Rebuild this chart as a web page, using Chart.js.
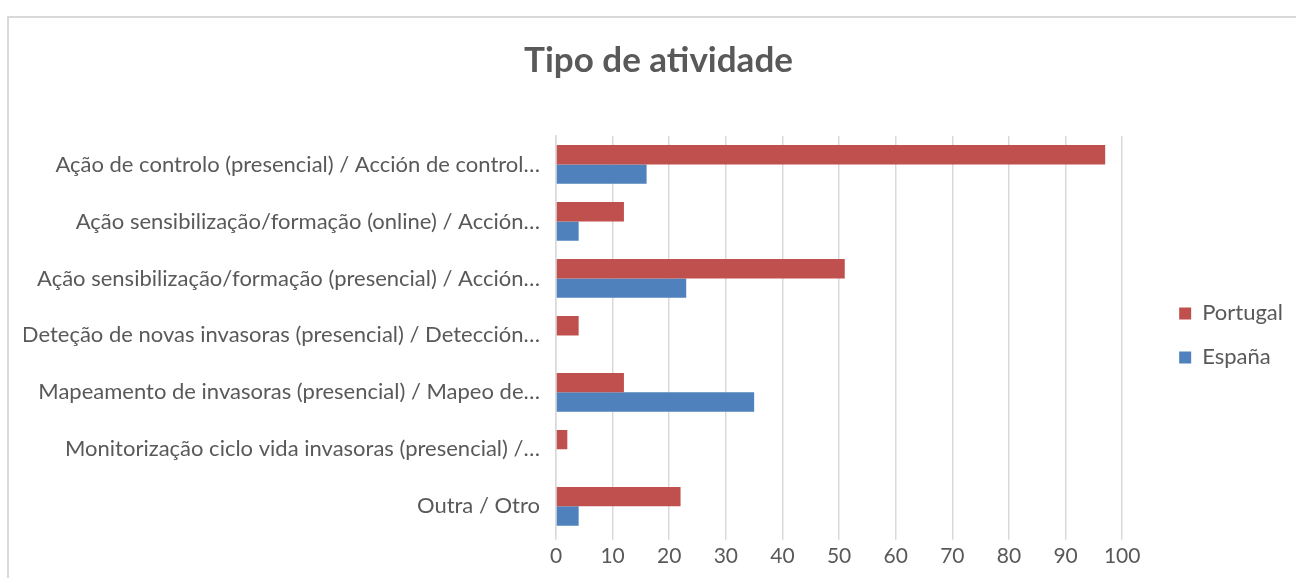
<!DOCTYPE html>
<html>
<head>
<meta charset="utf-8">
<script src="https://cdn.jsdelivr.net/npm/chart.js@4.4.0/dist/chart.umd.min.js"></script>
<style>
    html, body { margin: 0; padding: 0; background: #ffffff; overflow: hidden; }
    #frame {
        position: absolute;
        left: 7px; top: 16px;
        width: 1300px; height: 620px;
        border: 2px solid #d9d9d9;
        box-sizing: border-box;
    }
    #wrap { position: absolute; left: 0; top: 0; width: 1318px; height: 578px; }
</style>
</head>
<body>
<div id="frame"></div>
<div id="wrap"><canvas id="activityChart"></canvas></div>
<script>
// ====== Data ======
const categories = [
    "Ação de controlo (presencial) / Acción de control…",
    "Ação sensibilização/formação (online) / Acción…",
    "Ação sensibilização/formação (presencial) / Acción…",
    "Deteção de novas invasoras (presencial) / Detección…",
    "Mapeamento de invasoras (presencial) / Mapeo de…",
    "Monitorização ciclo vida invasoras (presencial) /…",
    "Outra / Otro"
];
const portugalValues = [97, 12, 51, 4, 12, 2, 22];
const espanaValues   = [16, 4, 23, 0, 35, 0, 4];
const xTicks = [0, 10, 20, 30, 40, 50, 60, 70, 80, 90, 100];

const textColor = "#595959";
const fontFamily = "Lato, sans-serif";

document.addEventListener("DOMContentLoaded", () => {
    const ctx = document.getElementById("activityChart");

    new Chart(ctx, {
        type: "bar",
        data: {
            labels: categories,
            datasets: [
                { label: "Portugal", data: portugalValues, backgroundColor: "#c0504d" },
                { label: "España",   data: espanaValues,   backgroundColor: "#4f81bd" }
            ]
        },
        options: {
            indexAxis: "y",
            responsive: true,
            maintainAspectRatio: false,
            animation: false,
            datasets: {
                bar: { categoryPercentage: 0.68, barPercentage: 1.0 }
            },
            layout: { padding: { left: 24, right: 25, top: 0, bottom: 5 } },
            plugins: {
                title: {
                    display: true,
                    text: "Tipo de atividade",
                    color: textColor,
                    font: { family: fontFamily, size: 35, weight: "bold" },
                    padding: { top: 40, bottom: 54 }
                },
                legend: {
                    position: "right",
                    fullSize: false,
                    labels: {
                        color: textColor,
                        font: { family: fontFamily, size: 22 },
                        boxWidth: 12,
                        boxHeight: 12,
                        padding: 22
                    }
                },
                tooltip: { enabled: false }
            },
            scales: {
                x: {
                    min: 0,
                    max: 100,
                    afterBuildTicks: (axis) => {
                        axis.ticks = xTicks.map(v => ({ value: v }));
                    },
                    border: { display: false },
                    grid: { color: "#d9d9d9", lineWidth: 1.5, tickLength: 5 },
                    ticks: {
                        color: textColor,
                        font: { family: fontFamily, size: 21 },
                        padding: 4
                    }
                },
                y: {
                    // keep the long category labels from being squeezed
                    afterFit: (axis) => { axis.width = 532; },
                    border: { display: true, color: "#d9d9d9", width: 1.5 },
                    grid: { display: false },
                    ticks: {
                        color: textColor,
                        font: { family: fontFamily, size: 22 },
                        padding: 8,
                        autoSkip: false
                    }
                },
                // empty spacer between plot and legend
                gap: {
                    axis: "y",
                    type: "linear",
                    position: "right",
                    afterFit: (axis) => { axis.width = 35; },
                    border: { display: false },
                    grid: { display: false },
                    ticks: { display: false }
                }
            }
        }
    });
});
</script>
</body>
</html>
